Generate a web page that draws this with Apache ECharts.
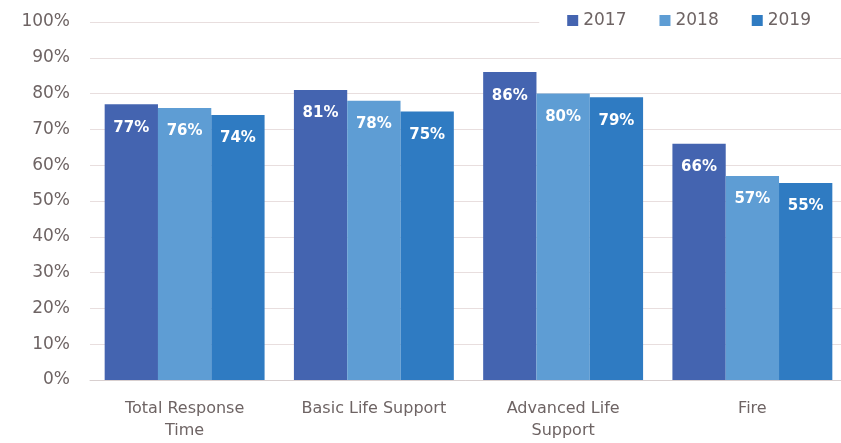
<!DOCTYPE html>
<html><head><meta charset="utf-8">
<script src="https://cdn.jsdelivr.net/npm/echarts@6/dist/echarts.min.js"></script>
<style>html,body{margin:0;padding:0;background:#fff}#c{width:841px;height:443px}</style>
</head><body><div id="c"></div>
<script>
const categories = ['Total Response\nTime', 'Basic Life Support', 'Advanced Life\nSupport', 'Fire'];
const years = ['2017', '2018', '2019'];
const v2017 = [77, 81, 86, 66];
const v2018 = [76, 78, 80, 57];
const v2019 = [74, 75, 79, 55];
const yTicks = [0, 10, 20, 30, 40, 50, 60, 70, 80, 90, 100];
const colors = ['#4464B0', '#5E9DD4', '#2F7BC2'];
const font = '"DejaVu Sans", sans-serif';
const chart = echarts.init(document.getElementById('c'));
const mk = (name, data, i) => ({
  name, type: 'bar', data, barGap: '0%', barCategoryGap: '15.5%',
  itemStyle: { color: colors[i] }, z: 2,
  label: { show: true, position: 'insideTop', distance: 16, formatter: '{c}%', color: '#fff',
    fontWeight: 'bold', fontSize: 15, fontFamily: font }
});
chart.setOption({
  animation: false,
  textStyle: { fontFamily: font },
  legend: {
    right: 0, top: 6, itemWidth: 11, itemHeight: 11, itemGap: 33, icon: 'rect',
    padding: [6, 30, 6, 28], backgroundColor: '#fff', z: 10,
    textStyle: { color: '#6e6464', fontSize: 17, fontFamily: font },
    data: years
  },
  grid: { left: 90, right: -6, top: 22, bottom: 63, outerBoundsMode: 'none', containLabel: false },
  xAxis: {
    type: 'category', data: categories,
    axisLine: { show: true, lineStyle: { color: '#d8cfcf' } },
    axisTick: { show: false },
    axisLabel: { interval: 0, color: '#6e6464', fontSize: 16, lineHeight: 22, margin: 18, fontFamily: font }
  },
  yAxis: {
    type: 'value', min: 0, max: 100, interval: 10,
    axisLine: { show: false }, axisTick: { show: false },
    splitLine: { lineStyle: { color: '#e8dede', width: 1 } },
    axisLabel: { color: '#6e6464', fontSize: 17, margin: 20, fontFamily: font,
      formatter: v => yTicks.includes(v) ? v + '%' : '' }
  },
  series: [mk(years[0], v2017, 0), mk(years[1], v2018, 1), mk(years[2], v2019, 2)]
});
</script></body></html>
